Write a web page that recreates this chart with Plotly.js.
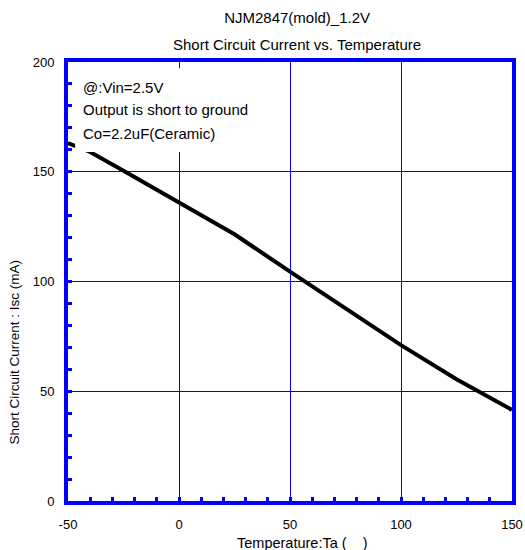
<!DOCTYPE html>
<html>
<head>
<meta charset="utf-8">
<script src="https://cdn.plot.ly/plotly-3.0.1.min.js"></script>
<style>html,body{margin:0;padding:0;background:#fff;}</style>
</head>
<body>
<div id="chart" style="width:525px;height:550px;"></div>
<script>
const temperature = [-50, -40, -25, 0, 25, 50, 75, 100, 125, 150];
const iscCurrent = [163, 159, 150.5, 136, 121.5, 104.5, 88, 71, 55.5, 41.5];
const xTickVals = [-50, 0, 50, 100, 150];
const xTickText = ['-50', '0', '50', '100', '150'];
const yTickVals = [0, 50, 100, 150, 200];
const yTickText = ['0', '50', '100', '150', '200'];
const titleLine1 = 'NJM2847(mold)_1.2V';
const titleLine2 = 'Short Circuit Current vs. Temperature';
const xTitle = 'Temperature:Ta (\u00a0\u00a0\u00a0\u00a0)';
const yTitle = 'Short Circuit Current : Isc (mA)';
const noteLines = ['@:Vin=2.5V', 'Output is short to ground', 'Co=2.2uF(Ceramic)'];

const fam = 'Liberation Sans, Arial, sans-serif';
const fontBig = {family: fam, size: 15, color: '#000'};
const fontTick = {family: fam, size: 13, color: '#000'};
const fontAxis = {family: fam, size: 13.5, color: '#000'};
const fontX = {family: fam, size: 14.5, color: '#000'};
const blue = '#0000ff';

const trace = {
  x: temperature, y: iscCurrent, mode: 'lines', type: 'scatter',
  line: {color: '#000', width: 4}, hoverinfo: 'skip', showlegend: false
};

const axisCommon = {
  showline: true, linecolor: blue, linewidth: 4, mirror: true,
  showgrid: true, gridcolor: blue, gridwidth: 1,
  zeroline: false,
  ticks: 'inside', ticklen: 4, tickwidth: 3, tickcolor: blue,
  minor: {dtick: 10, ticks: 'inside', ticklen: 4, tickwidth: 3, tickcolor: blue, showgrid: false},
  tickfont: fontTick, tickmode: 'array'
};

const noteY = [0.941, 0.891, 0.838];
const annotations = noteLines.map((t, i) => ({
  text: t, xref: 'paper', yref: 'paper', x: 0.029, y: noteY[i],
  xanchor: 'left', yanchor: 'middle', showarrow: false, font: fontBig
}));
annotations.push({text: titleLine2, xref: 'paper', yref: 'paper', x: 0.516, y: 1.041,
  xanchor: 'center', yanchor: 'middle', showarrow: false, font: fontBig});
annotations.push({text: xTitle, xref: 'paper', yref: 'paper', x: 0.529, y: -0.0957,
  xanchor: 'center', yanchor: 'middle', showarrow: false, font: fontX});
annotations.push({text: yTitle, xref: 'paper', yref: 'paper', x: -0.12, y: 0.34,
  xanchor: 'center', yanchor: 'middle', textangle: -90, showarrow: false, font: fontAxis});

const layout = {
  width: 525, height: 550,
  margin: {l: 68, r: 13, t: 62, b: 49},
  paper_bgcolor: '#fff', plot_bgcolor: '#fff',
  font: fontTick,
  title: {text: titleLine1, font: fontBig, x: 0.516, xref: 'paper', y: 1 - 18/550, yanchor: 'middle'},
  xaxis: Object.assign({}, axisCommon, {range: [-50, 150], tickvals: xTickVals, ticktext: xTickText, ticklabelstandoff: 8}),
  yaxis: Object.assign({}, axisCommon, {range: [0, 200], tickvals: yTickVals, ticktext: yTickText, ticklabelstandoff: 7}),
  shapes: [{type: 'rect', xref: 'paper', yref: 'paper', x0: 0.016, x1: 0.42, y0: 0.795, y1: 0.986,
    fillcolor: '#fff', line: {width: 0}, layer: 'above'}],
  annotations: annotations
};

Plotly.newPlot('chart', [trace], layout, {displayModeBar: false, staticPlot: true});
</script>
</body>
</html>
